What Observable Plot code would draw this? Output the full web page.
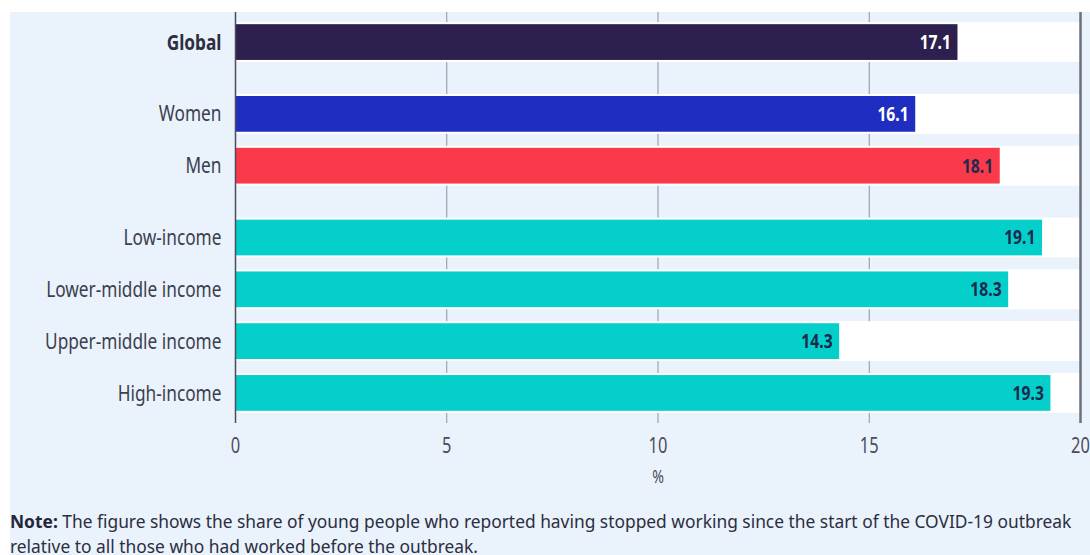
<!DOCTYPE html>
<html>
<head>
<meta charset="utf-8">
<script src="https://cdn.jsdelivr.net/npm/d3@7"></script>
<script src="https://cdn.jsdelivr.net/npm/@observablehq/plot@0.6"></script>
<style>
  html, body { margin: 0; padding: 0; background: #ffffff; overflow: hidden; }
  #frame { position: absolute; left: 10px; top: 12px; width: 1080px; height: 543px; background: #eaf2fb; overflow: hidden; }
  #chart svg { display: block; overflow: visible; }
  #note { position: absolute; left: 0px; top: 497px; font-family: "Noto Sans", sans-serif; font-size: 18px; line-height: 25px; color: #2b2e40; white-space: nowrap; transform: scaleX(0.965); transform-origin: 0 0; }
  #note b { color: #24263a; }
</style>
</head>
<body>
<div id="frame">
  <div id="chart"></div>
  <div id="note"><b>Note:</b> The figure shows the share of young people who reported having stopped working since the start of the COVID-19 outbreak<br>relative to all those who had worked before the outbreak.</div>
</div>
<script>
// ---- data ----
const categories = ["Global", "Women", "Men", "Low-income", "Lower-middle income", "Upper-middle income", "High-income"];
const values = [17.1, 16.1, 18.1, 19.1, 18.3, 14.3, 19.3];
const groups = ["Global", "Sex", "Sex", "Income", "Income", "Income", "Income"];
const xTicks = [0, 5, 10, 15, 20];
const xLabel = "%";

// ---- styles ----
const barColors = ["#2d1f4e", "#1f2ec0", "#fa3a4a", "#04cfcb", "#04cfcb", "#04cfcb", "#04cfcb"];
const labelColors = ["#ffffff", "#ffffff", "#1d2a4d", "#1d2a4d", "#1d2a4d", "#1d2a4d", "#1d2a4d"];
const FONT = "'Noto Sans', sans-serif";
const SQUEEZE = 0.785;

// layout helpers (not data)
const groupOrder = Array.from(new Set(groups));
const GROUP_GAP = 0.386;
const rows = categories.map((c, i) => ({
  label: c,
  value: values[i],
  pos: i + groupOrder.indexOf(groups[i]) * GROUP_GAP,
  fill: barColors[i],
  textFill: labelColors[i],
  bold: i === 0
}));
const lastPos = rows[rows.length - 1].pos;
const PAD = 0.58;
const BAR = 0.345, BAND = 0.385;
const xDomain = [xTicks[0], xTicks[xTicks.length - 1]];

const chart = Plot.plot({
  width: 1080,
  height: 480,
  marginLeft: 225,
  marginRight: 10,
  marginTop: 0,
  marginBottom: 69,
  style: { fontFamily: FONT, background: "transparent", color: "#4a4d5e" },
  x: { domain: xDomain, ticks: xTicks },
  y: { type: "linear", domain: [-PAD, lastPos + PAD], reverse: true, axis: null },
  color: { type: "identity" },
  marks: [
    Plot.gridX(xTicks.slice(1, -1), { stroke: "#8e93a3", strokeOpacity: 1, strokeWidth: 1 }),
    Plot.rectX(rows, { x1: xDomain[0], x2: xDomain[1], y1: d => d.pos - BAND, y2: d => d.pos + BAND, fill: "#ffffff" }),
    Plot.rectX(rows, { x1: xDomain[0], x2: "value", y1: d => d.pos - BAR, y2: d => d.pos + BAR, fill: "fill" }),
    Plot.text(rows, { x: "value", y: "pos", text: d => d.value.toFixed(1), textAnchor: "end", dx: -7, fill: "textFill", fontSize: 20, fontWeight: "bold" }),
    Plot.text(rows.filter(d => d.bold), { x: xDomain[0], y: "pos", text: "label", textAnchor: "end", dx: -14, fill: "#2c2f3f", fontSize: 22, fontWeight: "bold" }),
    Plot.text(rows.filter(d => !d.bold), { x: xDomain[0], y: "pos", text: "label", textAnchor: "end", dx: -14, fill: "#3c3f50", fontSize: 22 }),
    Plot.ruleX([xDomain[0]], { stroke: "#4a4d5a", strokeWidth: 1.5 }),
    Plot.ruleX([xDomain[1]], { stroke: "#6c7080", strokeWidth: 2.5 }),
    Plot.axisX({ ticks: xTicks, tickSize: 0, tickPadding: 15, fontSize: 21, fill: "#4a4d5e", label: xLabel, labelAnchor: "center", labelArrow: "none", labelOffset: 59 })
  ]
});
document.getElementById("chart").appendChild(chart);
// condensed look: squeeze each text horizontally around its own anchor
chart.querySelectorAll("text").forEach(t => {
  if (t.textContent === xLabel) t.setAttribute("font-size", "18");
  const x = +t.getAttribute("x") || 0;
  const tr = t.getAttribute("transform") || "";
  t.setAttribute("transform", `${tr} translate(${x},0) scale(${SQUEEZE},1) translate(${-x},0)`);
});
</script>
</body>
</html>
